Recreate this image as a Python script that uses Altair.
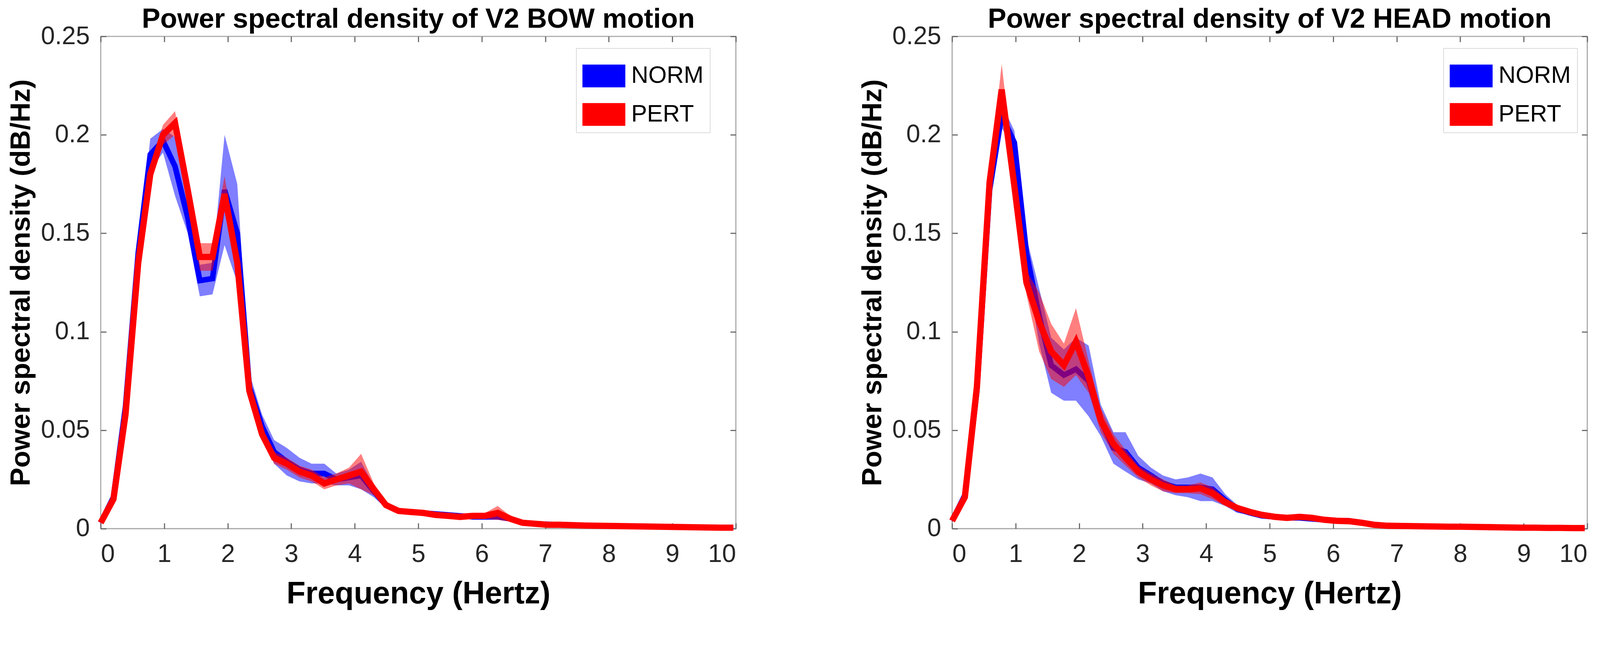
import altair as alt
import pandas as pd

FONT = "Liberation Sans"

FREQ = [0, 0.2, 0.39, 0.59, 0.78, 0.98, 1.17, 1.37, 1.56, 1.76,
        1.95, 2.15, 2.34, 2.54, 2.73, 2.93, 3.13, 3.32, 3.52, 3.71,
        3.91, 4.1, 4.3, 4.49, 4.69, 4.88, 5.08, 5.27, 5.47, 5.66,
        5.86, 6.05, 6.25, 6.45, 6.64, 6.84, 7.03, 7.23, 7.42, 7.62,
        7.81, 8.01, 8.2, 8.4, 8.59, 8.79, 8.98, 9.18, 9.38, 9.57,
        9.77, 9.96]

BOW_NORM = [0.003, 0.016, 0.062, 0.140, 0.190, 0.197, 0.184, 0.158, 0.126, 0.127,
            0.172, 0.150, 0.072, 0.052, 0.039, 0.034, 0.030, 0.028, 0.028, 0.025,
            0.026, 0.027, 0.019, 0.012, 0.009, 0.0085, 0.008, 0.0075, 0.007, 0.0065,
            0.006, 0.006, 0.006, 0.005, 0.003, 0.0025, 0.0022, 0.002, 0.0018, 0.0016,
            0.0015, 0.0014, 0.0013, 0.0012, 0.0011, 0.001, 0.0009, 0.0008, 0.0007, 0.0006,
            0.0005, 0.0005]
BOW_NORM_ERR = [0.001, 0.001, 0.002, 0.003, 0.008, 0.006, 0.015, 0.008, 0.008, 0.008,
                0.028, 0.025, 0.007, 0.006, 0.006, 0.007, 0.006, 0.005, 0.005, 0.003,
                0.004, 0.007, 0.003, 0.0015, 0.001, 0.001, 0.001, 0.001, 0.001, 0.001,
                0.001, 0.001, 0.001, 0.001, 0.0008, 0.0007, 0.0006, 0.0005, 0.0005, 0.0005,
                0.0004, 0.0004, 0.0004, 0.0004, 0.0003, 0.0003, 0.0003, 0.0003, 0.0003, 0.0003,
                0.0003, 0.0003]
BOW_PERT = [0.003, 0.015, 0.058, 0.135, 0.180, 0.200, 0.206, 0.172, 0.138, 0.138,
            0.170, 0.135, 0.070, 0.048, 0.036, 0.033, 0.029, 0.027, 0.023, 0.025,
            0.027, 0.029, 0.020, 0.012, 0.009, 0.0085, 0.008, 0.007, 0.0065, 0.006,
            0.0065, 0.0065, 0.008, 0.005, 0.003, 0.0025, 0.002, 0.002, 0.0018, 0.0016,
            0.0015, 0.0014, 0.0013, 0.0012, 0.0011, 0.001, 0.0009, 0.0008, 0.0007, 0.0006,
            0.0005, 0.0005]
BOW_PERT_ERR = [0.001, 0.001, 0.002, 0.003, 0.004, 0.005, 0.006, 0.005, 0.007, 0.007,
                0.009, 0.006, 0.004, 0.003, 0.003, 0.003, 0.003, 0.003, 0.003, 0.003,
                0.004, 0.009, 0.003, 0.0015, 0.001, 0.001, 0.001, 0.001, 0.001, 0.001,
                0.001, 0.0015, 0.0035, 0.0015, 0.001, 0.0007, 0.0006, 0.0005, 0.0005, 0.0005,
                0.0004, 0.0004, 0.0004, 0.0004, 0.0003, 0.0003, 0.0003, 0.0003, 0.0003, 0.0003,
                0.0003, 0.0003]

HEAD_NORM = [0.004, 0.017, 0.070, 0.172, 0.210, 0.196, 0.140, 0.108, 0.083, 0.078,
             0.081, 0.075, 0.055, 0.041, 0.039, 0.031, 0.027, 0.023, 0.021, 0.021,
             0.021, 0.020, 0.0145, 0.010, 0.008, 0.0065, 0.006, 0.0055, 0.0055, 0.005,
             0.0045, 0.004, 0.004, 0.003, 0.002, 0.0015, 0.0014, 0.0013, 0.0012, 0.0011,
             0.001, 0.001, 0.0009, 0.0008, 0.0007, 0.0006, 0.0005, 0.0005, 0.0004, 0.0004,
             0.0003, 0.0003]
HEAD_NORM_ERR = [0.001, 0.001, 0.002, 0.003, 0.006, 0.006, 0.008, 0.014, 0.014, 0.013,
                 0.016, 0.018, 0.008, 0.008, 0.010, 0.006, 0.004, 0.004, 0.004, 0.005,
                 0.007, 0.006, 0.003, 0.002, 0.001, 0.001, 0.001, 0.001, 0.001, 0.001,
                 0.001, 0.001, 0.001, 0.0008, 0.0006, 0.0005, 0.0005, 0.0004, 0.0004, 0.0004,
                 0.0003, 0.0003, 0.0003, 0.0003, 0.0003, 0.0003, 0.0002, 0.0002, 0.0002, 0.0002,
                 0.0002, 0.0002]
HEAD_PERT = [0.004, 0.016, 0.072, 0.176, 0.223, 0.174, 0.125, 0.105, 0.090, 0.083,
             0.095, 0.077, 0.055, 0.043, 0.036, 0.029, 0.025, 0.022, 0.020, 0.020,
             0.0205, 0.018, 0.0135, 0.0105, 0.0085, 0.007, 0.006, 0.0055, 0.006, 0.0055,
             0.0045, 0.004, 0.0038, 0.003, 0.002, 0.0015, 0.0014, 0.0013, 0.0012, 0.0011,
             0.001, 0.001, 0.0009, 0.0008, 0.0007, 0.0006, 0.0005, 0.0005, 0.0004, 0.0004,
             0.0003, 0.0003]
HEAD_PERT_ERR = [0.001, 0.001, 0.002, 0.003, 0.013, 0.006, 0.006, 0.015, 0.014, 0.011,
                 0.017, 0.008, 0.006, 0.005, 0.004, 0.003, 0.003, 0.003, 0.002, 0.002,
                 0.003, 0.003, 0.002, 0.0015, 0.001, 0.001, 0.001, 0.001, 0.001, 0.001,
                 0.001, 0.001, 0.001, 0.0008, 0.0006, 0.0005, 0.0005, 0.0004, 0.0004, 0.0004,
                 0.0003, 0.0003, 0.0003, 0.0003, 0.0003, 0.0003, 0.0002, 0.0002, 0.0002, 0.0002,
                 0.0002, 0.0002]

SERIES = ["NORM", "PERT"]
COLORS = ["#0000ff", "#ff0000"]
TITLES = ["Power spectral density of V2 BOW motion",
          "Power spectral density of V2 HEAD motion"]
X_TITLE = "Frequency (Hertz)"
Y_TITLE = "Power spectral density (dB/Hz)"
X_TICKS = [0, 1, 2, 3, 4, 5, 6, 7, 8, 9, 10]
Y_TICKS = [0, 0.05, 0.1, 0.15, 0.2, 0.25]

W, H = 1718, 1331
TICK = 15

LABEL_STYLE = dict(labelFont=FONT, labelFontSize=68, labelColor="#262626",
                   titleFont=FONT, titleFontWeight="bold", titleColor="#000000",
                   tickColor="#666666", tickWidth=3)


def make_frame(norm, norm_err, pert, pert_err):
    rows = []
    for name, means, errs in ((SERIES[0], norm, norm_err), (SERIES[1], pert, pert_err)):
        for f, m, e in zip(FREQ, means, errs):
            rows.append({"f": f, "mean": m, "lo": max(m - e, 0.0), "hi": m + e, "series": name})
    return pd.DataFrame(rows)


def panel(df, title, legend_x):
    xs = alt.Scale(domain=[0, 10], nice=False, zero=False)
    ys = alt.Scale(domain=[0, 0.25], nice=False, zero=False)
    legend = alt.Legend(
        title=None, orient="none", legendX=legend_x, legendY=32, direction="vertical",
        symbolType="M-1,-0.53L1,-0.53L1,0.53L-1,0.53Z", symbolSize=13456,
        symbolStrokeWidth=0, symbolOpacity=1, labelOffset=16, labelLimit=600,
        labelFont=FONT, labelFontSize=64, labelColor="#000000",
        padding=17, rowPadding=14, strokeColor="#b4b4b4", fillColor="#ffffff",
        cornerRadius=0,
    )
    color = alt.Color("series:N", scale=alt.Scale(domain=SERIES, range=COLORS), legend=legend)
    x_bottom = alt.Axis(values=X_TICKS, offset=-TICK, tickSize=TICK, labelPadding=36,
                        domain=False, grid=False, title=X_TITLE, titleFontSize=84,
                        titlePadding=32, **LABEL_STYLE)
    y_left = alt.Axis(values=Y_TICKS, format="~g", offset=-TICK, tickSize=TICK, labelPadding=30,
                      domain=False, grid=False, title=Y_TITLE, titleFontSize=75,
                      titlePadding=14, **LABEL_STYLE)
    x_top = alt.Axis(values=X_TICKS, orient="top", offset=-TICK, tickSize=TICK, labels=False,
                     domain=False, grid=False, title=None, tickColor="#666666", tickWidth=3)
    y_right = alt.Axis(values=Y_TICKS, orient="right", offset=-TICK, tickSize=TICK, labels=False,
                       domain=False, grid=False, title=None, tickColor="#666666", tickWidth=3)

    base = alt.Chart(df)
    band_n = base.transform_filter("datum.series == 'NORM'").mark_area(opacity=0.5).encode(
        x=alt.X("f:Q", scale=xs, axis=x_bottom),
        y=alt.Y("lo:Q", scale=ys, axis=y_left),
        y2="hi:Q",
        color=color,
    )
    line_n = base.transform_filter("datum.series == 'NORM'").mark_line(
        color=COLORS[0], strokeWidth=15, strokeJoin="miter", strokeMiterLimit=3
    ).encode(
        x=alt.X("f:Q", scale=xs, axis=None),
        y=alt.Y("mean:Q", scale=ys, axis=None),
    )
    band_p = base.transform_filter("datum.series == 'PERT'").mark_area(opacity=0.5).encode(
        x=alt.X("f:Q", scale=xs, axis=None),
        y=alt.Y("lo:Q", scale=ys, axis=None),
        y2="hi:Q",
        color=color,
    )
    line_p = base.transform_filter("datum.series == 'PERT'").mark_line(
        color=COLORS[1], strokeWidth=17, strokeJoin="miter", strokeMiterLimit=3
    ).encode(
        x=alt.X("f:Q", scale=xs, axis=None),
        y=alt.Y("mean:Q", scale=ys, axis=None),
    )
    frame_axes = base.mark_line(opacity=0).encode(
        x=alt.X("f:Q", scale=xs, axis=x_top),
        y=alt.Y("mean:Q", scale=ys, axis=y_right),
        detail="series:N",
    )
    return alt.layer(band_n, line_n, band_p, line_p, frame_axes).resolve_axis(
        x="independent", y="independent"
    ).properties(
        width=W, height=H,
        title=alt.Title(title, font=FONT, fontSize=75, fontWeight="bold", color="#000000",
                        anchor="middle", frame="group", offset=-27),
    )


left = panel(make_frame(BOW_NORM, BOW_NORM_ERR, BOW_PERT, BOW_PERT_ERR), TITLES[0], 1286)
right = panel(make_frame(HEAD_NORM, HEAD_NORM_ERR, HEAD_PERT, HEAD_PERT_ERR), TITLES[1], 1329)

chart = alt.hconcat(left, right, spacing=310).resolve_scale(color="independent").properties(
    padding={"left": 10, "top": -40, "right": 5, "bottom": -10},
    background="#ffffff",
).configure_view(
    stroke="#a8a8a8", strokeWidth=3
)

chart.save("out.html", embed_options={"renderer": "svg", "actions": False})
